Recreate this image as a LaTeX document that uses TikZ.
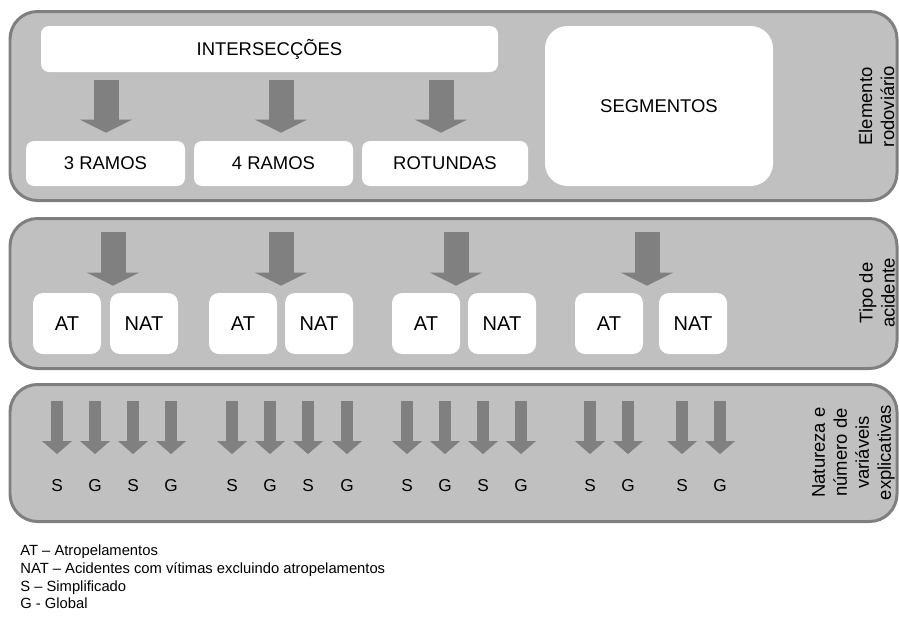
\documentclass[tikz,border=0pt]{standalone}
\usepackage{fontspec}
\setmainfont{Liberation Sans}
\usetikzlibrary{arrows.meta}
\pgfdeclarelayer{panellayer}
\pgfdeclarelayer{edgelayer}
\pgfdeclarelayer{nodelayer}
\pgfsetlayers{panellayer,edgelayer,nodelayer,main}
\definecolor{panelgray}{HTML}{C0C0C0}
\definecolor{bordergray}{HTML}{7F7F7F}
\definecolor{arrowgray}{HTML}{808080}
\tikzset{font=\fontsize{10.5}{12.5}\selectfont}
\tikzstyle{none}=[inner sep=0pt]
\tikzstyle{letter}=[inner sep=0pt,font=\fontsize{9.8}{12}\selectfont]
\tikzstyle{panel}=[rounded corners=0.55cm,fill=panelgray,draw=bordergray,line width=1.7pt,minimum width=17.74cm]
\tikzstyle{box}=[rounded corners=0.16cm,fill=white,inner sep=0pt,minimum height=0.9cm]
\tikzstyle{pair}=[rounded corners=0.2cm,fill=white,inner sep=0pt,minimum width=1.36cm,minimum height=1.22cm,font=\fontsize{11.4}{13}\selectfont]
\tikzstyle{tag}=[rotate=90,align=center,inner sep=0pt]
\tikzstyle{legend}=[anchor=base west,inner sep=0pt,font=\fontsize{8.4}{10}\selectfont]
\tikzstyle{fat}=[arrowgray,line width=0.5cm,-{Triangle[width=1.04cm,length=0.26cm,line width=0pt]}]
\tikzstyle{slim}=[arrowgray,line width=0.24cm,-{Triangle[width=0.6cm,length=0.26cm,line width=0pt]}]

\begin{document}
\begin{tikzpicture}
	\useasboundingbox (0, 0) rectangle (17.98, -12.34);
	\begin{pgfonlayer}{panellayer}
		\node [style=panel, minimum height=3.78cm] (0) at (9.07, -2.12) {};
		\node [style=panel, minimum height=3cm] (1) at (9.07, -5.87) {};
		\node [style=panel, minimum height=2.74cm] (2) at (9.07, -9.06) {};
	\end{pgfonlayer}
	\begin{pgfonlayer}{nodelayer}
		\node [style=box, minimum width=9.14cm, minimum height=0.92cm] (3) at (5.39, -0.98) {INTERSECÇÕES};
		\node [style=box, minimum width=3.18cm] (4) at (2.11, -3.27) {3 RAMOS};
		\node [style=box, minimum width=3.18cm] (5) at (5.47, -3.27) {4 RAMOS};
		\node [style=box, minimum width=3.32cm] (6) at (8.9, -3.27) {ROTUNDAS};
		\node [style=box, rounded corners=0.45cm, minimum width=4.56cm, minimum height=3.2cm] (7) at (13.18, -2.12) {SEGMENTOS};
		\node [style=tag] (8) at (17.53, -2.13) {Elemento\\rodoviário};
		\node [style=pair] (9) at (1.34, -6.47) {AT};
		\node [style=pair] (10) at (2.88, -6.47) {NAT};
		\node [style=pair] (11) at (4.86, -6.47) {AT};
		\node [style=pair] (12) at (6.38, -6.47) {NAT};
		\node [style=pair] (13) at (8.52, -6.47) {AT};
		\node [style=pair] (14) at (10.04, -6.47) {NAT};
		\node [style=pair] (15) at (12.18, -6.47) {AT};
		\node [style=pair] (16) at (13.86, -6.47) {NAT};
		\node [style=tag] (17) at (17.54, -5.86) {Tipo de\\acidente};
		\node [style=letter] (18) at (1.14, -9.72) {S};
		\node [style=letter] (19) at (1.9, -9.72) {G};
		\node [style=letter] (20) at (2.66, -9.72) {S};
		\node [style=letter] (21) at (3.42, -9.72) {G};
		\node [style=letter] (22) at (4.64, -9.72) {S};
		\node [style=letter] (23) at (5.4, -9.72) {G};
		\node [style=letter] (24) at (6.16, -9.72) {S};
		\node [style=letter] (25) at (6.94, -9.72) {G};
		\node [style=letter] (26) at (8.14, -9.72) {S};
		\node [style=letter] (27) at (8.9, -9.72) {G};
		\node [style=letter] (28) at (9.66, -9.72) {S};
		\node [style=letter] (29) at (10.42, -9.72) {G};
		\node [style=letter] (30) at (11.8, -9.72) {S};
		\node [style=letter] (31) at (12.56, -9.72) {G};
		\node [style=letter] (32) at (13.64, -9.72) {S};
		\node [style=letter] (33) at (14.4, -9.72) {G};
		\node [style=tag] (34) at (17.07, -9.05) {Natureza e\\número de\\variáveis\\explicativas};
		\node [style=legend] (35) at (0.4, -11.1) {AT – Atropelamentos};
		\node [style=legend] (36) at (0.4, -11.46) {NAT – Acidentes com vítimas excluindo atropelamentos};
		\node [style=legend] (37) at (0.4, -11.82) {S – Simplificado};
		\node [style=legend] (38) at (0.4, -12.16) {G - Global};
		\node [style=none] (39) at (2.12, -1.6) {};
		\node [style=none] (40) at (5.62, -1.6) {};
		\node [style=none] (41) at (8.82, -1.6) {};
		\node [style=none] (42) at (2.26, -4.64) {};
		\node [style=none] (43) at (5.62, -4.64) {};
		\node [style=none] (44) at (9.12, -4.64) {};
		\node [style=none] (45) at (12.94, -4.64) {};
		\node [style=none] (46) at (1.14, -8.02) {};
		\node [style=none] (47) at (1.9, -8.02) {};
		\node [style=none] (48) at (2.66, -8.02) {};
		\node [style=none] (49) at (3.42, -8.02) {};
		\node [style=none] (50) at (4.64, -8.02) {};
		\node [style=none] (51) at (5.4, -8.02) {};
		\node [style=none] (52) at (6.16, -8.02) {};
		\node [style=none] (53) at (6.94, -8.02) {};
		\node [style=none] (54) at (8.14, -8.02) {};
		\node [style=none] (55) at (8.9, -8.02) {};
		\node [style=none] (56) at (9.66, -8.02) {};
		\node [style=none] (57) at (10.42, -8.02) {};
		\node [style=none] (58) at (11.8, -8.02) {};
		\node [style=none] (59) at (12.56, -8.02) {};
		\node [style=none] (60) at (13.64, -8.02) {};
		\node [style=none] (61) at (14.4, -8.02) {};
	\end{pgfonlayer}
	\begin{pgfonlayer}{edgelayer}
		\draw [style=fat, shorten >=0.16cm] (39.center) to (39 |- 4.north);
		\draw [style=fat, shorten >=0.16cm] (40.center) to (40 |- 5.north);
		\draw [style=fat, shorten >=0.16cm] (41.center) to (41 |- 6.north);
		\draw [style=fat, shorten >=0.14cm] (42.center) to (42 |- 9.north);
		\draw [style=fat, shorten >=0.14cm] (43.center) to (43 |- 11.north);
		\draw [style=fat, shorten >=0.14cm] (44.center) to (44 |- 13.north);
		\draw [style=fat, shorten >=0.14cm] (45.center) to (45 |- 15.north);
		\draw [style=slim, shorten >=0.51cm] (46.center) to (18.north);
		\draw [style=slim, shorten >=0.51cm] (47.center) to (19.north);
		\draw [style=slim, shorten >=0.51cm] (48.center) to (20.north);
		\draw [style=slim, shorten >=0.51cm] (49.center) to (21.north);
		\draw [style=slim, shorten >=0.51cm] (50.center) to (22.north);
		\draw [style=slim, shorten >=0.51cm] (51.center) to (23.north);
		\draw [style=slim, shorten >=0.51cm] (52.center) to (24.north);
		\draw [style=slim, shorten >=0.51cm] (53.center) to (25.north);
		\draw [style=slim, shorten >=0.51cm] (54.center) to (26.north);
		\draw [style=slim, shorten >=0.51cm] (55.center) to (27.north);
		\draw [style=slim, shorten >=0.51cm] (56.center) to (28.north);
		\draw [style=slim, shorten >=0.51cm] (57.center) to (29.north);
		\draw [style=slim, shorten >=0.51cm] (58.center) to (30.north);
		\draw [style=slim, shorten >=0.51cm] (59.center) to (31.north);
		\draw [style=slim, shorten >=0.51cm] (60.center) to (32.north);
		\draw [style=slim, shorten >=0.51cm] (61.center) to (33.north);
	\end{pgfonlayer}
\end{tikzpicture}
\end{document}
